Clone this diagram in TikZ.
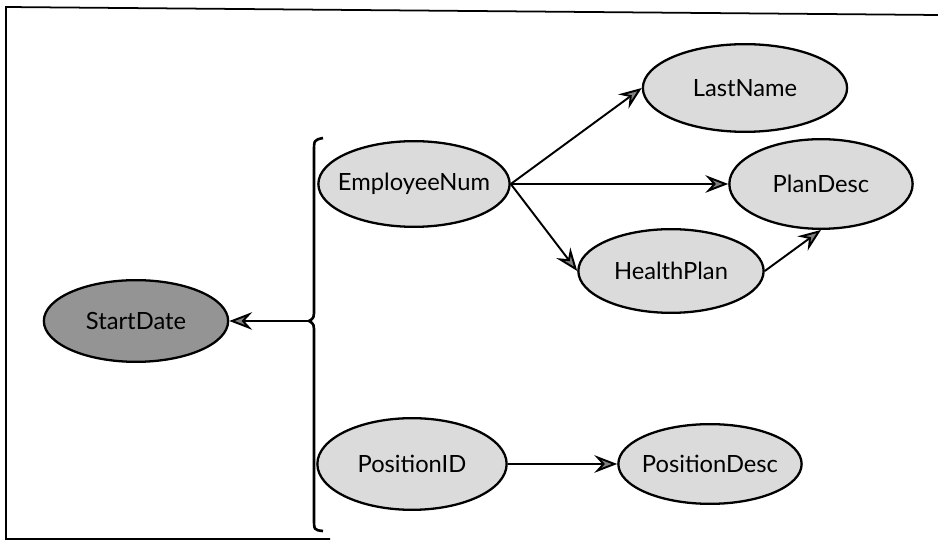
\documentclass[tikz,border=0pt]{standalone}
\usepackage{fontspec}
\setmainfont{Lato}
\usepackage{tikz}
\usetikzlibrary{positioning,arrows.meta,shapes.geometric}

\newcommand{\attrtext}[1]{\makebox[0pt]{#1}}

\begin{document}
\begin{tikzpicture}[
  x=0.02cm, y=-0.02cm,
  font=\fontsize{13.5}{16}\selectfont,
  attr/.style={ellipse, draw, line width=1.3pt, fill=black!14, inner sep=0pt},
  keyattr/.style={attr, fill=black!42},
  arr/.style={-{Stealth[length=13pt, width=10pt, inset=4.5pt, fill=black!50]}, line width=1.1pt}
]
\useasboundingbox (0,0) rectangle (938,540);
% --- frame ---
\draw[line width=1pt] (330,539) -- (6,539) -- (6,7) -- (938,15);
% --- determinant side ---
\node[keyattr, minimum width=185*0.567pt, minimum height=82*0.567pt] (start) at (136,321) {\attrtext{StartDate}};
\coordinate (tip) at (309,321);
\draw[line width=1.5pt] (323,138) .. controls (314,140) .. (314,152)
  -- (314,308) .. controls (314,318) .. (309,321)
  .. controls (314,324) .. (314,334) -- (314,518)
  .. controls (314,530) .. (323,531);
\draw[arr] (tip) -- (start);
% --- attributes ---
\node[attr, minimum width=192*0.567pt, minimum height=86*0.567pt] (emp) at (414,184) {\attrtext{EmployeeNum}};
\node[attr, minimum width=190*0.567pt, minimum height=92*0.567pt] (pos) at (412,464) {\attrtext{PositionID}};
\node[attr, minimum width=205*0.567pt, minimum height=88*0.567pt] (last) at (745,88) {\attrtext{LastName}};
\node[attr, minimum width=184*0.567pt, minimum height=90*0.567pt] (plan) at (821,184) {\attrtext{PlanDesc}};
\node[attr, minimum width=186*0.567pt, minimum height=84*0.567pt] (health) at (671,271) {\attrtext{HealthPlan}};
\node[attr, minimum width=184*0.567pt, minimum height=80*0.567pt] (posdesc) at (710,464) {\attrtext{PositionDesc}};
% --- dependencies ---
\draw[arr] (emp.east) -- (last.west);
\draw[arr] (emp.east) -- (plan.west);
\draw[arr] (emp.east) -- (health.west);
\draw[arr] (health.east) -- (plan.south);
\draw[arr] (pos.east) -- (posdesc.west);
\end{tikzpicture}
\end{document}
